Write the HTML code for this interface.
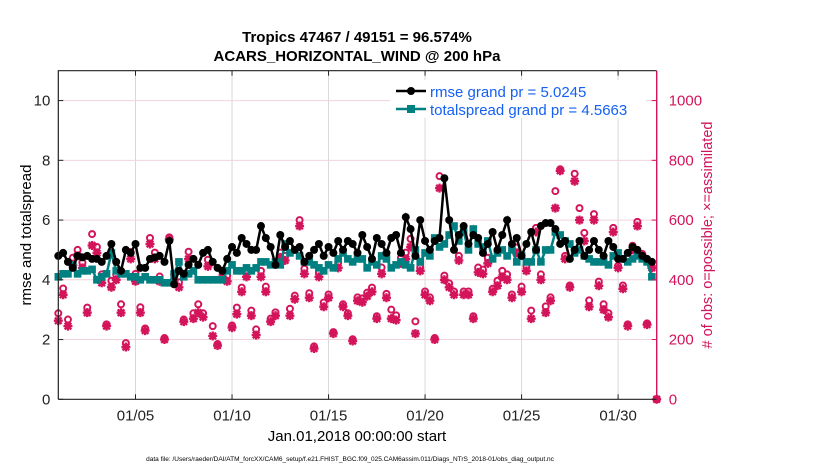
<!DOCTYPE html>
<html><head><meta charset="utf-8"><style>
body{margin:0;background:#fff;}
svg{display:block;font-family:"Liberation Sans",sans-serif;}
</style></head><body>
<svg id="chart" width="830" height="470">
<text x="357" y="42" text-anchor="middle" font-size="15" font-weight="bold">Tropics 47467 / 49151 = 96.574%</text>
<text x="357" y="61" text-anchor="middle" font-size="15" font-weight="bold">ACARS_HORIZONTAL_WIND @ 200 hPa</text>
<g id="grid"></g>
<g id="obs"></g>
<g id="lines"></g>
<g id="axes"></g>
<g>
<rect x="390" y="80" width="256" height="38" fill="#fff"/>
<g>
<line x1="396" y1="91" x2="426" y2="91" stroke="#000" stroke-width="2.5"/><circle cx="411" cy="91" r="4" fill="#000"/>
<text x="430" y="97" font-size="15" fill="#1560f5">rmse grand pr = 5.0245</text></g>
<g>
<line x1="396" y1="109" x2="426" y2="109" stroke="#008080" stroke-width="2.5"/><rect x="407" y="105" width="8" height="8" fill="#008080"/>
<text x="430" y="115" font-size="15" fill="#1560f5">totalspread grand pr = 4.5663</text></g>
</g>
<text transform="translate(31,235) rotate(-90)" text-anchor="middle" font-size="15">rmse and totalspread</text>
<text transform="translate(712,235) rotate(-90)" text-anchor="middle" font-size="14.5" fill="#d4145a"># of obs: o=possible; ×=assimilated</text>
<text x="357" y="441" text-anchor="middle" font-size="15">Jan.01,2018 00:00:00 start</text>
<text x="350" y="461" text-anchor="middle" font-size="6.5">data file: /Users/raeder/DAI/ATM_forcXX/CAM6_setup/f.e21.FHIST_BGC.f09_025.CAM6assim.011/Diags_NTrS_2018-01/obs_diag_output.nc</text>
</svg>
<script>
const xTickDays=[4,9,14,19,24,29];
const xTickLabels=["01/05","01/10","01/15","01/20","01/25","01/30"];
const yLeftTicks=[0,2,4,6,8,10];
const yRightTicks=[0,200,400,600,800,1000];
const rmse=[4.8,4.9,4.6,4.4,4.8,4.75,4.8,4.7,4.7,4.6,
4.8,5.2,4.6,4.3,5.0,4.9,5.2,4.4,4.4,4.7,
4.75,4.8,4.6,5.3,3.85,4.3,4.2,4.5,4.7,4.5,
4.9,5.0,4.6,4.4,4.3,4.7,5.1,4.9,5.4,5.2,
5.0,5.0,5.8,5.4,5.1,4.5,5.5,5.1,5.3,5.0,
5.1,4.6,4.8,5.0,5.2,4.8,5.1,4.9,5.3,5.0,
5.3,5.2,4.9,5.5,5.1,4.7,5.4,5.2,4.9,5.4,
5.5,4.9,6.1,5.7,4.8,6.0,5.3,5.0,5.3,5.4,
7.4,6.0,5.0,5.5,5.8,5.2,5.5,5.4,4.9,5.2,
5.6,5.0,5.5,6.0,5.2,5.4,4.8,5.2,5.6,5.0,
5.8,5.9,5.9,5.7,5.2,5.3,4.7,5.0,5.3,4.8,
5.0,5.3,5.0,4.8,5.3,5.1,4.7,4.7,4.9,5.1,
5.0,4.8,4.7,4.6];
const spread=[4.1,4.2,4.2,4.5,4.2,4.3,4.3,4.35,4.0,4.1,
4.2,4.9,4.3,4.2,4.2,4.1,4.1,4.0,4.1,4.0,
4.0,4.0,3.9,3.9,4.2,4.6,4.1,4.2,4.3,4.0,
4.0,4.0,4.0,4.0,4.0,4.3,4.5,4.3,4.3,4.4,
4.3,4.4,4.6,4.6,4.5,4.6,4.5,5.2,4.9,5.0,
4.8,4.6,4.6,4.5,4.4,4.3,4.5,4.4,4.7,4.9,
4.7,4.6,4.7,4.7,4.4,4.6,4.5,4.8,4.7,4.4,
4.5,4.6,4.5,4.4,5.0,4.6,4.9,4.8,5.4,5.1,
5.2,5.5,5.8,5.3,5.6,5.0,5.7,5.2,5.1,5.3,
4.7,4.9,5.0,4.8,5.0,4.6,4.8,4.6,4.6,5.0,
4.6,5.0,5.0,5.6,5.5,5.3,5.2,4.9,5.0,4.8,
4.7,4.6,4.6,4.6,4.5,4.8,4.9,4.7,4.6,4.7,
4.8,4.7,4.6,4.1];
const obsPossible=[288,371,267,474,500,458,307,553,510,418,251,397,418,318,188,493,420,308,237,540,491,411,205,542,418,392,267,494,288,318,288,467,
245,185,430,414,247,307,374,430,297,234,430,377,270,291,491,480,303,347,600,437,355,177,424,324,351,225,458,318,288,201,341,
338,357,374,278,441,353,300,281,474,491,537,261,441,361,341,205,747,414,388,361,480,361,361,278,441,434,474,370,397,430,418,351,
508,377,447,297,574,418,311,341,697,770,480,381,755,640,557,331,620,394,318,288,574,447,381,251,514,594,487,254,441,0];
const obsUsed=[263,350,245,450,480,440,290,515,490,390,245,375,400,290,175,470,395,290,230,520,470,395,200,535,395,375,260,470,270,290,275,445,
212,180,410,395,240,285,360,410,280,215,410,360,260,280,475,465,280,335,580,420,340,170,410,310,340,220,440,310,280,195,330,
325,345,360,270,420,340,270,265,455,470,510,220,430,350,330,200,707,400,375,350,465,350,350,270,425,420,455,360,380,410,400,340,
490,360,430,270,560,400,290,330,640,765,470,375,730,600,530,310,600,380,300,275,560,440,370,245,500,580,480,250,440,0];

const NS="http://www.w3.org/2000/svg";
const X0=58.3,X1=656.7,Y0=399.3,Y1=70.7;
const xDay=d=>X0+(d/31)*(X1-X0);
const xIdx=i=>xDay(i*0.25);
const yL=v=>Y0-(v/11)*(Y0-Y1);
const yR=v=>Y0-(v/1100)*(Y0-Y1);
function mk(tag,attrs,parent){const e=document.createElementNS(NS,tag);for(const k in attrs)e.setAttribute(k,attrs[k]);parent.appendChild(e);return e;}
const grid=document.getElementById('grid'),axes=document.getElementById('axes'),lines=document.getElementById('lines'),obs=document.getElementById('obs');
xTickDays.forEach((d,k)=>{
 const x=xDay(d);
 const gl=mk('line',{x1:x,x2:x,y1:Y1,y2:Y0,stroke:'#d8d8d8','stroke-width':1},grid);
 
 
 mk('line',{x1:x,x2:x,y1:Y0,y2:Y0-5,stroke:'#222'},axes);
 mk('line',{x1:x,x2:x,y1:Y1,y2:Y1+5,stroke:'#222'},axes);
 const t=mk('text',{x:x,y:Y0+21,'text-anchor':'middle','font-size':15,fill:'#222'},axes);
 t.textContent=xTickLabels[k];
 
 
});
yRightTicks.forEach(v=>{
 const y=yR(v);
 if(v>0){const gl=mk('line',{x1:X0,x2:X1,y1:y,y2:y,stroke:'#f0d4dc','stroke-width':1},grid);
 
 }
 mk('line',{x1:X1,x2:X1-5,y1:y,y2:y,stroke:'#d4145a'},axes);
 const t=mk('text',{x:X1+12,y:y+5,'font-size':15,fill:'#d4145a'},axes);
 t.textContent=v;
 
 
});
yLeftTicks.forEach(v=>{
 const y=yL(v);
 mk('line',{x1:X0,x2:X0+5,y1:y,y2:y,stroke:'#222'},axes);
 const t=mk('text',{x:X0-8,y:y+5,'text-anchor':'end','font-size':15,fill:'#222'},axes);
 t.textContent=v;
 
 
});
mk('path',{d:`M${X0},${Y0}V${Y1}H${X1}M${X0},${Y0}H${X1}`,fill:'none',stroke:'#222','stroke-width':1.2},axes);
mk('line',{x1:X1,x2:X1,y1:Y1,y2:Y0,stroke:'#d4145a','stroke-width':1.4},axes);
obsPossible.forEach((v,i)=>{
 const c=mk('circle',{cx:xIdx(i),cy:yR(v),r:3,fill:'none',stroke:'#d4145a','stroke-width':2},obs);
 
 
});
obsUsed.forEach((v,i)=>{
 const x=xIdx(i),y=yR(v),r=4.5;
 const p=mk('path',{d:`M${x-r},${y}H${x+r}M${x},${y-r}V${y+r}M${x-3.3},${y-3.3}L${x+3.3},${y+3.3}M${x-3.3},${y+3.3}L${x+3.3},${y-3.3}`,stroke:'#d4145a','stroke-width':2.4},obs);
 
 
});
function series(arr,color,marker,name){
 const d=arr.map((v,i)=>(i?'L':'M')+xIdx(i).toFixed(1)+','+yL(v).toFixed(1)).join('');
 const p=mk('path',{d:d,fill:'none',stroke:color,'stroke-width':2.5},lines);
 
 
 arr.forEach((v,i)=>{
  let m;
  if(marker==='c')m=mk('circle',{cx:xIdx(i),cy:yL(v),r:4,fill:color},lines);
  else m=mk('rect',{x:xIdx(i)-3.8,y:yL(v)-3.8,width:7.6,height:7.6,fill:color},lines);
  
  
 });
}
series(spread,'#008080','s','totalspread');
series(rmse,'#000','c','rmse');
</script>
</body></html>
